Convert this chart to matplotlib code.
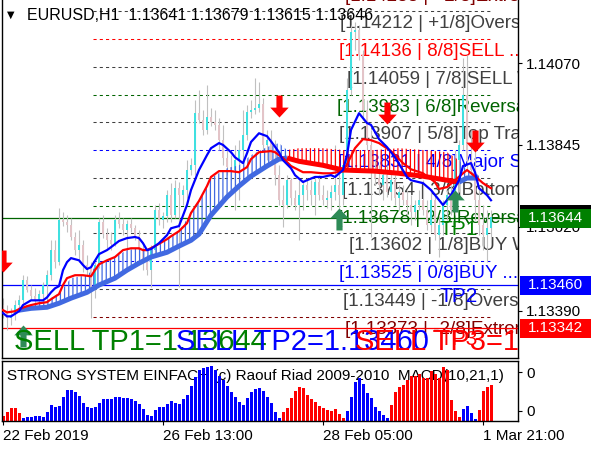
import matplotlib
matplotlib.use("Agg")
import matplotlib.pyplot as plt
import matplotlib.transforms as mtransforms
from matplotlib.patches import Rectangle
from matplotlib.path import Path
import numpy as np

plt.rcParams['font.family'] = ['Liberation Sans', 'DejaVu Sans']
plt.rcParams['hatch.linewidth'] = 0.9

# ---- data ----
symbol = "EURUSD,H1"
last_ohlc = [1.13641, 1.13679, 1.13615, 1.13646]

open_ = [1.13405, 1.13385, 1.13369, 1.13377, 1.13405, 1.13418, 1.13473, 1.13446, 1.13429, 1.13418,
         1.13435, 1.13460, 1.13487, 1.13556, 1.13523, 1.13638, 1.13633, 1.13625, 1.13592, 1.13556,
         1.13570, 1.13515, 1.13506, 1.13446, 1.13515, 1.13633, 1.13600, 1.13583, 1.13572, 1.13638,
         1.13627, 1.13611, 1.13627, 1.13616, 1.13594, 1.13556, 1.13523, 1.13501, 1.13556, 1.13666,
         1.13638, 1.13649, 1.13707, 1.13652, 1.13726, 1.13707, 1.13721, 1.13776, 1.13789, 1.13932,
         1.13913, 1.13886, 1.13922, 1.13908, 1.13900, 1.13858, 1.13809, 1.13784, 1.13776, 1.13803,
         1.13831, 1.13872, 1.13935, 1.13941, 1.13946, 1.13957, 1.13845, 1.13858, 1.13803, 1.13762,
         1.13693, 1.13680, 1.13748, 1.13699, 1.13680, 1.13707, 1.13735, 1.13721, 1.13707, 1.13743,
         1.13707, 1.13693, 1.13699, 1.13715, 1.13735, 1.13707, 1.13789, 1.13996, 1.14155, 1.14161,
         1.14092, 1.13941, 1.13845, 1.13776, 1.13754, 1.13735, 1.13762, 1.13715, 1.13748, 1.13699,
         1.13715, 1.13693, 1.13680, 1.13660, 1.13680, 1.13693, 1.13666, 1.13625, 1.13693, 1.13597,
         1.13625, 1.13680, 1.13707, 1.13666, 1.13803, 1.13845, 1.13982, 1.13803, 1.13776, 1.13693,
         1.13625, 1.13597, 1.13616]
high = [1.13424, 1.13405, 1.13396, 1.13418, 1.13432, 1.13487, 1.13484, 1.13460, 1.13451, 1.13446,
        1.13468, 1.13501, 1.13583, 1.13583, 1.13671, 1.13660, 1.13652, 1.13644, 1.13605, 1.13611,
        1.13583, 1.13542, 1.13523, 1.13523, 1.13644, 1.13652, 1.13616, 1.13605, 1.13652, 1.13660,
        1.13644, 1.13638, 1.13644, 1.13625, 1.13611, 1.13570, 1.13542, 1.13570, 1.13680, 1.13685,
        1.13660, 1.13721, 1.13740, 1.13748, 1.13743, 1.13735, 1.13803, 1.13809, 1.13968, 1.13996,
        1.13941, 1.14010, 1.13946, 1.13941, 1.13919, 1.13900, 1.13831, 1.13817, 1.13845, 1.13858,
        1.13941, 1.13955, 1.13968, 1.14029, 1.14018, 1.13974, 1.13886, 1.13886, 1.13858, 1.13789,
        1.13735, 1.13762, 1.13754, 1.13721, 1.13748, 1.13748, 1.13754, 1.13748, 1.13754, 1.13762,
        1.13735, 1.13721, 1.13735, 1.13845, 1.13789, 1.13831, 1.14029, 1.14175, 1.14183, 1.14175,
        1.14106, 1.13968, 1.13886, 1.13803, 1.13789, 1.13776, 1.13789, 1.13776, 1.13762, 1.13735,
        1.13735, 1.13721, 1.13707, 1.13693, 1.13721, 1.13748, 1.13693, 1.13721, 1.13707, 1.13652,
        1.13693, 1.13721, 1.13735, 1.13831, 1.13858, 1.14084, 1.14092, 1.13886, 1.13831, 1.13735,
        1.13680, 1.13666, 1.13666]
low = [1.13369, 1.13336, 1.13349, 1.13363, 1.13385, 1.13410, 1.13440, 1.13418, 1.13405, 1.13402,
       1.13418, 1.13418, 1.13473, 1.13506, 1.13515, 1.13622, 1.13605, 1.13583, 1.13542, 1.13523,
       1.13495, 1.13487, 1.13369, 1.13424, 1.13506, 1.13589, 1.13561, 1.13556, 1.13567, 1.13616,
       1.13597, 1.13561, 1.13605, 1.13583, 1.13542, 1.13501, 1.13487, 1.13454, 1.13545, 1.13625,
       1.13616, 1.13633, 1.13633, 1.13644, 1.13454, 1.13680, 1.13699, 1.13762, 1.13762, 1.13905,
       1.13872, 1.13875, 1.13897, 1.13886, 1.13831, 1.13789, 1.13762, 1.13748, 1.13666, 1.13693,
       1.13803, 1.13858, 1.13919, 1.13930, 1.13935, 1.13831, 1.13803, 1.13789, 1.13735, 1.13680,
       1.13619, 1.13671, 1.13680, 1.13666, 1.13583, 1.13666, 1.13693, 1.13680, 1.13652, 1.13693,
       1.13680, 1.13671, 1.13666, 1.13693, 1.13660, 1.13680, 1.13776, 1.13982, 1.14106, 1.14078,
       1.13913, 1.13831, 1.13592, 1.13735, 1.13707, 1.13693, 1.13702, 1.13693, 1.13680, 1.13666,
       1.13680, 1.13652, 1.13625, 1.13638, 1.13666, 1.13652, 1.13611, 1.13605, 1.13583, 1.13537,
       1.13597, 1.13638, 1.13652, 1.13652, 1.13715, 1.13831, 1.13776, 1.13762, 1.13638, 1.13597,
       1.13556, 1.13523, 1.13583]
close = [1.13385, 1.13369, 1.13377, 1.13405, 1.13418, 1.13473, 1.13446, 1.13429, 1.13418, 1.13435,
         1.13460, 1.13487, 1.13556, 1.13523, 1.13638, 1.13633, 1.13625, 1.13592, 1.13556, 1.13570,
         1.13515, 1.13506, 1.13446, 1.13515, 1.13633, 1.13600, 1.13583, 1.13572, 1.13638, 1.13627,
         1.13611, 1.13627, 1.13616, 1.13594, 1.13556, 1.13523, 1.13501, 1.13556, 1.13666, 1.13638,
         1.13649, 1.13707, 1.13652, 1.13726, 1.13707, 1.13721, 1.13776, 1.13789, 1.13932, 1.13913,
         1.13886, 1.13922, 1.13908, 1.13900, 1.13858, 1.13809, 1.13784, 1.13776, 1.13803, 1.13831,
         1.13872, 1.13935, 1.13941, 1.13946, 1.13957, 1.13845, 1.13858, 1.13803, 1.13762, 1.13693,
         1.13680, 1.13748, 1.13699, 1.13680, 1.13707, 1.13735, 1.13721, 1.13707, 1.13743, 1.13707,
         1.13693, 1.13699, 1.13715, 1.13735, 1.13707, 1.13789, 1.13996, 1.14155, 1.14161, 1.14092,
         1.13941, 1.13845, 1.13776, 1.13754, 1.13735, 1.13762, 1.13715, 1.13748, 1.13699, 1.13715,
         1.13693, 1.13680, 1.13660, 1.13680, 1.13693, 1.13666, 1.13625, 1.13693, 1.13597, 1.13625,
         1.13680, 1.13707, 1.13666, 1.13803, 1.13845, 1.13982, 1.13803, 1.13776, 1.13693, 1.13625,
         1.13597, 1.13616, 1.13646]

# fast MA (blue) and slow MA (red), read at the listed bars
blue_idx = [0, 1, 2, 4, 5, 7, 10, 11, 12, 13, 14, 15, 16, 17, 19, 20, 21, 22, 24, 26,
            27, 29, 31, 33, 34, 35, 36, 37, 39, 41, 42, 44, 46, 47, 49, 51, 52, 54, 55, 57,
            58, 60, 61, 62, 64, 66, 67, 69, 70, 72, 73, 75, 76, 78, 80, 82, 83, 85, 86, 87,
            89, 91, 92, 94, 96, 98, 101, 102, 105, 107, 110, 112, 114, 115, 117, 118, 119, 121, 122]
blue_val = [1.13383, 1.13374, 1.13374, 1.13388, 1.13405, 1.13418, 1.13418, 1.13426, 1.13440, 1.13451,
            1.13457, 1.13501, 1.13523, 1.13534, 1.13528, 1.13515, 1.13504, 1.13509, 1.13545, 1.13556,
            1.13564, 1.13581, 1.13589, 1.13592, 1.13589, 1.13575, 1.13556, 1.13559, 1.13575, 1.13597,
            1.13616, 1.13622, 1.13680, 1.13721, 1.13776, 1.13817, 1.13836, 1.13850, 1.13845, 1.13825,
            1.13811, 1.13795, 1.13822, 1.13853, 1.13877, 1.13869, 1.13855, 1.13825, 1.13803, 1.13781,
            1.13762, 1.13743, 1.13748, 1.13757, 1.13757, 1.13762, 1.13757, 1.13776, 1.13817, 1.13886,
            1.13932, 1.13905, 1.13900, 1.13861, 1.13839, 1.13811, 1.13757, 1.13748, 1.13740, 1.13721,
            1.13680, 1.13707, 1.13748, 1.13787, 1.13795, 1.13770, 1.13726, 1.13707, 1.13693]
red_idx = [0, 1, 3, 4, 6, 7, 9, 11, 12, 14, 15, 16, 18, 20, 22, 23, 24, 26, 28, 30,
           32, 34, 35, 36, 38, 41, 42, 44, 46, 47, 49, 51, 52, 54, 57, 59, 61, 62, 64, 67,
           68, 70, 72, 75, 77, 80, 82, 85, 86, 88, 90, 92, 94, 97, 100, 102, 105, 108, 109, 111,
           113, 115, 116, 118, 120, 122]
red_val = [1.13391, 1.13385, 1.13388, 1.13394, 1.13402, 1.13405, 1.13410, 1.13413, 1.13421, 1.13435,
           1.13460, 1.13479, 1.13487, 1.13487, 1.13484, 1.13501, 1.13517, 1.13528, 1.13537, 1.13556,
           1.13561, 1.13561, 1.13556, 1.13556, 1.13567, 1.13586, 1.13594, 1.13608, 1.13630, 1.13658,
           1.13691, 1.13732, 1.13757, 1.13773, 1.13773, 1.13770, 1.13784, 1.13806, 1.13825, 1.13828,
           1.13825, 1.13809, 1.13787, 1.13770, 1.13770, 1.13767, 1.13767, 1.13773, 1.13792, 1.13836,
           1.13861, 1.13858, 1.13850, 1.13828, 1.13795, 1.13778, 1.13767, 1.13743, 1.13724, 1.13729,
           1.13748, 1.13767, 1.13776, 1.13759, 1.13740, 1.13726]

# thick trend line + ribbon top, u = rising (blue), d = falling (red)
slow_idx = [4, 7, 11, 14, 17, 21, 24, 28, 31, 34, 37, 41, 44, 47, 49, 52, 56, 59, 62, 66,
            69, 71, 74, 80, 85, 93, 99, 105, 111, 114, 116, 119]
slow_val = [1.13391, 1.13396, 1.13399, 1.13410, 1.13424, 1.13440, 1.13460, 1.13479, 1.13501, 1.13520,
            1.13537, 1.13550, 1.13567, 1.13583, 1.13600, 1.13652, 1.13702, 1.13732, 1.13759, 1.13787,
            1.13806, 1.13809, 1.13800, 1.13789, 1.13776, 1.13773, 1.13767, 1.13759, 1.13748, 1.13743,
            1.13754, 1.13754]
ribbon_top = [1.13394, 1.13405, 1.13418, 1.13437, 1.13479, 1.13487, 1.13520, 1.13537, 1.13556, 1.13561,
              1.13556, 1.13586, 1.13608, 1.13658, 1.13693, 1.13754, 1.13781, 1.13789, 1.13817, 1.13839,
              1.13850, 1.13831, 1.13836, 1.13836, 1.13831, 1.13831, 1.13836, 1.13831, 1.13825, 1.13803,
              1.13776, 1.13762]
slow_dir = "uuuuuuuuuuuuuuuuuuuuuuddddddddu" + "u"

# Murray math levels
levels = [1.14288, 1.14212, 1.14136, 1.14059, 1.13983, 1.13907, 1.13831,
          1.13754, 1.13678, 1.13602, 1.13525, 1.13449, 1.13373]
level_names = ["+2/8", "+1/8", "8/8", "7/8", "6/8", "5/8", "4/8",
               "3/8", "2/8", "1/8", "0/8", "-1/8", "-2/8"]
level_desc = ["Extreme Overshoot", "Overshoot", "SELL ...", "SELL Weak", "Reversal",
              "Top Trading Range", "Major S/R", "Bottom Trading Range", "Reversal",
              "BUY Weak", "BUY ...", "Oversold", "Extreme Oversold"]
level_colors = ["#800000", "#404040", "#ff0000", "#404040", "#006400", "#404040", "#0000ff",
                "#404040", "#006400", "#404040", "#0000ff", "#404040", "#800000"]
label_x = [85.5, 84.25, 84, 86, 83.5, 84, 83.75, 84.75, 83.5, 86.5, 84, 85, 85.5]

# take profit lines
tp_prices = [1.13644, 1.13460, 1.13342]
tp_colors = ["#008000", "#0000ff", "#ff0000"]

# arrow signals
sell_bars = [0, 69, 96, 118]
sell_prices = [1.13495, 1.13922, 1.13902, 1.13825]
buy_bars = [5, 84, 113]
buy_prices = [1.13350, 1.13671, 1.13721]

# MACD histogram (blue > 0, red < 0)
macd = [-5, -9, -13, -13, -8, 3, 4, 4, 5, 5,
        4, 9, 16, 14, 15, 24, 31, 31, 29, 25,
        18, 14, 13, 14, 18, 22, 22, 22, 24, 24,
        23, 23, 22, 20, 17, 12, 6, 5, 11, 14,
        14, 17, 20, 18, 17, 22, 26, 35, 44, 51,
        53, 54, 55, 51, 45, 41, 35, 29, 24, 19,
        16, 23, 29, 32, 33, 30, 24, 18, 9, 3,
        -9, -13, -23, -30, -34, -33, -26, -22, -19, -15,
        -13, -11, -10, -12, -7, -3, 10, 24, 39, 43,
        37, 28, 23, 14, 10, 6, 3, -16, -29, -34,
        -36, -41, -45, -45, -47, -43, -43, -50, -47, -43,
        -54, -51, -21, -10, -4, 12, 15, 8, 2, -11,
        -30, -34, -36]

price_ticks = [1.14070, 1.13845, 1.13620, 1.13390]
time_ticks = [0, 40, 80, 120]
time_labels = ["22 Feb 2019", "26 Feb 13:00", "28 Feb 05:00", "1 Mar 21:00"]

# ---- figure ----
fig = plt.figure(figsize=(6, 4.5), dpi=100)


def px_box(x0, y0, x1, y1):
    return [x0 / 600, 1 - y1 / 450, (x1 - x0) / 600, (y1 - y0) / 450]


ax = fig.add_axes(px_box(2, 0, 518, 358))
sub = fig.add_axes(px_box(2, 361, 518, 421))

ymin, ymax = 1.132596, 1.142431
ax.set_xlim(-0.25, 128.75)
ax.set_ylim(ymin, ymax)
ppu = 358 / (ymax - ymin)  # pixels per price unit

o, h, l, c = map(np.array, (open_, high, low, close))
bars = np.arange(len(c))
up = c >= o

# murray levels
for lvl, col in zip(levels, level_colors):
    ax.hlines(lvl, 22.5, 122.25, colors=col, linestyles=(0, (3, 3)), lw=0.75, zorder=1)
below = mtransforms.offset_copy(ax.transData, fig=fig, x=0, y=-4, units='dots')
for lvl, name, desc, col, lx in zip(levels, level_names, level_desc, level_colors, label_x):
    ax.text(lx, lvl, f"[{lvl:.5f} | {name}]{desc}", transform=below, color=col,
            fontsize=13.5, ha='left', va='top', clip_on=True, zorder=1.2)

# candles
ax.vlines(bars, l, h, color='#c0c0c0', lw=0.8, zorder=2)
ax.bar(bars[up], c[up] - o[up], bottom=o[up], width=0.6, color='#40e0e0', zorder=2.1)
ax.bar(bars[~up], o[~up] - c[~up], bottom=c[~up], width=0.6, color='#e3c4c8', zorder=2.1)

# TP lines
for p, col in zip(tp_prices, ["#006400", "#0000ff", "#ff0000"]):
    ax.axhline(p, color=col, lw=0.9, zorder=1.8)

# trend line with ribbon
si = np.array(slow_idx)
sv = np.array(slow_val)
rt = np.array(ribbon_top)
n = len(si)
j0 = 0
while j0 < n - 1:
    d = slow_dir[j0 + 1]
    j1 = j0 + 1
    while j1 + 1 < n and slow_dir[j1 + 1] == d:
        j1 += 1
    seg = slice(j0, j1 + 1)
    col = '#4169e1' if d == 'u' else '#ff0000'
    ax.fill_between(si[seg], sv[seg], rt[seg], facecolor='none', edgecolor=col,
                    hatch='||||', linewidth=0, zorder=3)
    ax.plot(si[seg], sv[seg], color=col, lw=3.6, solid_capstyle='butt', zorder=3.5)
    j0 = j1

ax.plot(red_idx, red_val, color='#ff0000', lw=1.6, zorder=4)
ax.plot(blue_idx, blue_val, color='#0000ff', lw=1.6, zorder=4.1)

# arrows (tip at origin)
down_arrow = Path([(0, 0), (-0.42, 0.45), (-0.14, 0.45), (-0.14, 1), (0.14, 1),
                   (0.14, 0.45), (0.42, 0.45), (0, 0)], closed=True)
up_arrow = Path([(0, 0), (-0.42, -0.45), (-0.14, -0.45), (-0.14, -1), (0.14, -1),
                 (0.14, -0.45), (0.42, -0.45), (0, 0)], closed=True)
ax.scatter(sell_bars, sell_prices, marker=down_arrow, s=1000, color='#ff0000',
           linewidths=0, zorder=6)
ax.scatter(buy_bars, buy_prices, marker=up_arrow, s=1000, color='#2e8b57',
           linewidths=0, zorder=6)

# big TP texts
for k, (p, col, xp) in enumerate(zip(tp_prices, tp_colors, [14, 176, 355])):
    ax.text((xp - 2) / 516, 8 / 358, f"SELL TP{k + 1}={p:.5f}", transform=ax.transAxes,
            color=col, fontsize=21, ha='left', va='baseline', clip_on=True, zorder=7)
tp_below = mtransforms.offset_copy(ax.transData, fig=fig, x=0, y=-2, units='dots')
for k, (p, col) in enumerate(zip(tp_prices, tp_colors)):
    ax.text(109.25, p, f"TP{k + 1}", transform=tp_below, color=col, fontsize=15,
            ha='left', va='top', clip_on=True, zorder=7)

# right price axis
ax.yaxis.tick_right()
ax.set_yticks(price_ticks)
ax.set_yticklabels([f"{v:.5f}" for v in price_ticks])
ax.tick_params(axis='y', length=3, direction='out', pad=3, labelsize=11)
ax.set_xticks([])
ax.spines['top'].set_visible(False)
for s in ax.spines.values():
    s.set_linewidth(1)

bt = mtransforms.blended_transform_factory(ax.transAxes, ax.transData)
bx0, bw = 518 / 516, 71 / 516
ax.add_patch(Rectangle((bx0, tp_prices[0] + 8 / ppu), bw, 5 / ppu, transform=bt,
                       facecolor='black', edgecolor='none', clip_on=False, zorder=10))
for p, col in zip(tp_prices, ["#008000", "#0000ff", "#ff0000"]):
    ax.add_patch(Rectangle((bx0, p - 9.5 / ppu), bw, 19 / ppu, transform=bt,
                           facecolor=col, edgecolor='none', clip_on=False, zorder=10))
    ax.text(bx0 + bw / 2, p, f"{p:.5f}", transform=bt, color='white', fontsize=11,
            ha='center', va='center', clip_on=False, zorder=11)

# title
fig.text(7 / 600, 1 - 15 / 450, "\u25bc", family='DejaVu Sans', fontsize=7, va='center')
fig.text(27 / 600, 1 - 15 / 450,
         symbol + "  " + " ".join(f"{v:.5f}" for v in last_ohlc),
         fontsize=11.5, va='center', ha='left')

# MACD sub window
mv = np.array(macd)
sub.bar(bars, np.abs(mv), width=0.75, color=np.where(mv > 0, '#0000ff', '#ff0000'), zorder=2)
sub.set_xlim(-0.25, 128.75)
sub.set_ylim(0, 60)
sub.text(5 / 516, 0.75, "STRONG SYSTEM EINFACH (c) Raouf Riad 2009-2010  MACD(10,21,1)",
         transform=sub.transAxes, fontsize=11, va='center', ha='left', zorder=0.5)
sub.yaxis.tick_right()
sub.set_yticks([49, 10])
sub.set_yticklabels(["0", "0"])
sub.tick_params(axis='y', length=3, direction='out', pad=3, labelsize=11)
sub.set_xticks(time_ticks)
sub.set_xticklabels(time_labels)
for lab in sub.get_xticklabels():
    lab.set_ha('left')
sub.tick_params(axis='x', length=3, direction='out', pad=2.5, labelsize=11)
for s in sub.spines.values():
    s.set_linewidth(1)

fig.savefig("out.png", dpi=100)
